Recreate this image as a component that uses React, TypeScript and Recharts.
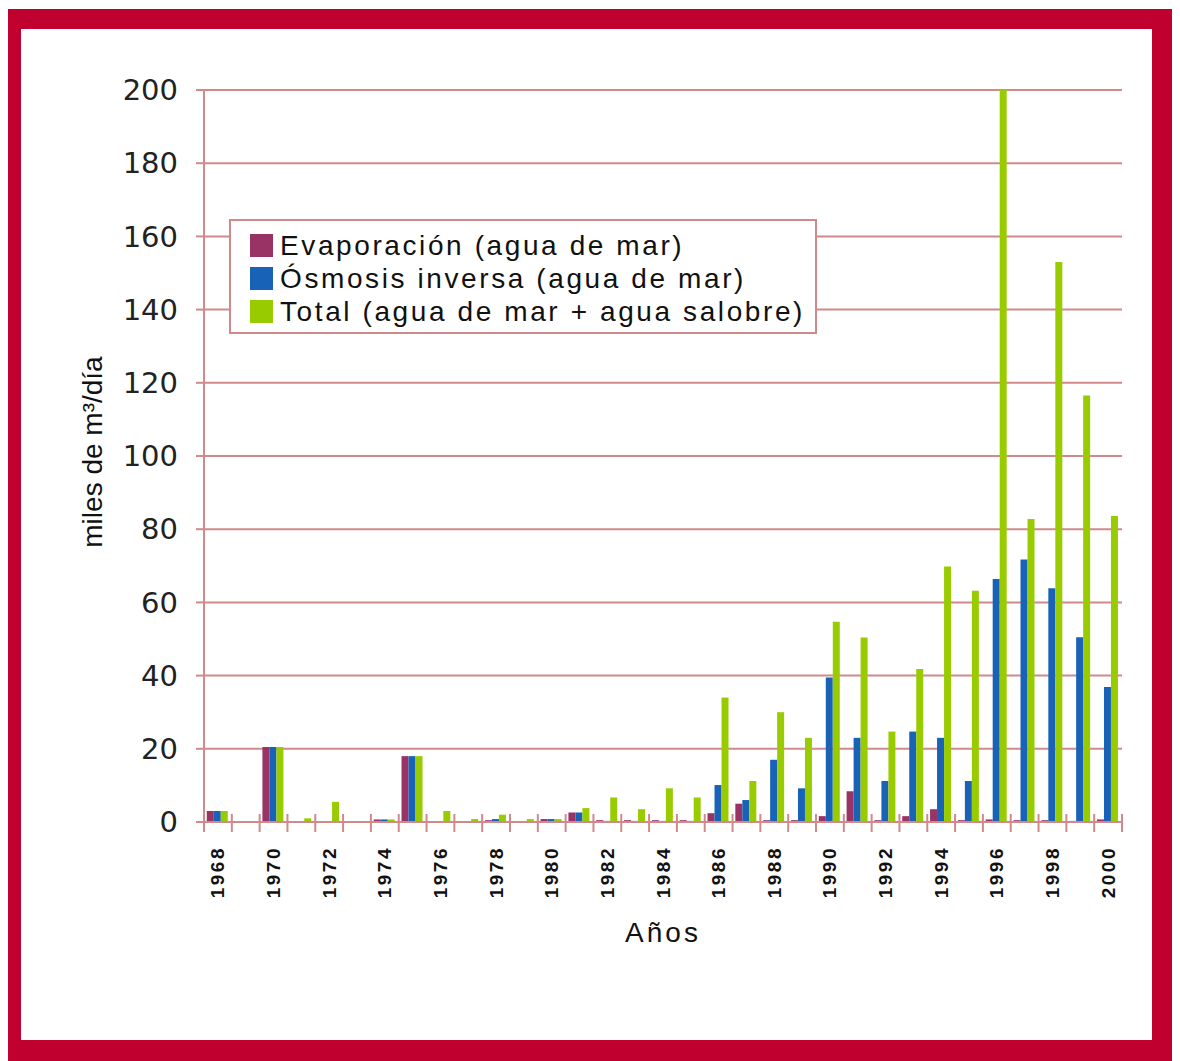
import { BarChart, Bar, XAxis, YAxis, CartesianGrid, Legend } from 'recharts';

const years = [
  '1968', '1969', '1970', '1971', '1972', '1973', '1974', '1975', '1976', '1977', '1978',
  '1979', '1980', '1981', '1982', '1983', '1984', '1985', '1986', '1987', '1988', '1989',
  '1990', '1991', '1992', '1993', '1994', '1995', '1996', '1997', '1998', '1999', '2000',
];

const evaporacion = [
  3, 0, 20.5, 0, 0, 0, 0.7, 18, 0, 0, 0.5,
  0, 0.8, 2.6, 0.5, 0.5, 0.5, 0.5, 2.4, 5, 0.5, 0.5,
  1.6, 8.4, 0.5, 1.6, 3.5, 0.5, 0.7, 0.5, 0.5, 0.3, 0.7,
];

const osmosis = [
  3, 0, 20.5, 0, 0, 0, 0.7, 18, 0, 0, 0.8,
  0, 0.8, 2.6, 0.3, 0.3, 0.3, 0.3, 10.1, 6, 17, 9.2,
  39.5, 23, 11.2, 24.7, 23, 11.2, 66.4, 71.7, 63.9, 50.5, 36.9,
];

const total = [
  3, 0, 20.5, 1, 5.5, 0, 0.7, 18, 3, 0.8, 2,
  0.8, 0.8, 3.8, 6.7, 3.5, 9.2, 6.7, 34, 11.2, 30, 23,
  54.7, 50.4, 24.7, 41.8, 69.8, 63.2, 200, 82.8, 153, 116.5, 83.6,
];

const yTicks = [0, 20, 40, 60, 80, 100, 120, 140, 160, 180, 200];

const series = [
  { key: 'evap', name: 'Evaporación (agua de mar)', color: '#993366' },
  { key: 'osmo', name: 'Ósmosis inversa (agua de mar)', color: '#1862B8' },
  { key: 'total', name: 'Total (agua de mar + agua salobre)', color: '#99CC00' },
];

const data = years.map((year, i) => ({
  year,
  evap: evaporacion[i],
  osmo: osmosis[i],
  total: total[i],
}));

const LINE = '#d08a8a';
const FONT = '"Liberation Sans", Arial, sans-serif';
const CHART_W = 1131;
const CHART_H = 1011;
const MARGIN = { top: 61, right: 30, left: 0, bottom: 98 };
const Y_W = 183;
const BAND = (CHART_W - MARGIN.left - MARGIN.right - Y_W) / years.length;

const XTick = (props: any) => {
  const { x, y, payload, index } = props;
  const half = BAND / 2;
  const ty = y + 24;
  return (
    <g>
      <line x1={x - half} x2={x - half} y1={y - 8} y2={y + 10} stroke={LINE} strokeWidth={2} />
      {index === years.length - 1 && (
        <line x1={x + half} x2={x + half} y1={y - 8} y2={y + 10} stroke={LINE} strokeWidth={2} />
      )}
      {Number(payload.value) % 2 === 0 && (
        <text
          x={x}
          y={ty}
          transform={`rotate(-90 ${x} ${ty})`}
          textAnchor="end"
          dominantBaseline="central"
          fontFamily={FONT}
          fontWeight="bold"
          fontSize={19}
          letterSpacing={2.5}
          fill="#111"
        >
          {payload.value}
        </text>
      )}
    </g>
  );
};

const renderLegend = () => (
  <div
    style={{
      border: `2px solid ${LINE}`,
      background: '#fff',
      width: 565,
      padding: '8px 0 4px 19px',
      fontFamily: FONT,
      fontSize: 28,
      letterSpacing: 2.6,
      color: '#111',
    }}
  >
    {series.map((s) => (
      <div key={s.key} style={{ display: 'flex', alignItems: 'center', height: 33 }}>
        <div style={{ width: 23, height: 23, background: s.color, marginRight: 7 }} />
        <span>{s.name}</span>
      </div>
    ))}
  </div>
);

export default function App() {
  return (
    <div style={{ position: 'relative', top: 1, width: 1168, height: 1053, background: '#C0002E' }}>
      <div style={{ position: 'absolute', left: 13, top: 20, width: CHART_W, height: CHART_H, background: '#fff' }}>
        <BarChart
          width={CHART_W}
          height={CHART_H}
          data={data}
          margin={MARGIN}
          barCategoryGap="10%"
          barGap={0}
        >
          <CartesianGrid vertical={false} stroke={LINE} strokeWidth={2} />
          <XAxis
            dataKey="year"
            interval={0}
            height={120}
            tickSize={0}
            tickMargin={0}
            tickLine={false}
            axisLine={{ stroke: LINE, strokeWidth: 2 }}
            tick={<XTick />}
            label={{
              value: 'Años',
              position: 'insideBottom',
              offset: 0,
              fontFamily: FONT,
              fontSize: 28,
              letterSpacing: 3,
              fill: '#111',
            }}
          />
          <YAxis
            width={Y_W}
            domain={[0, 200]}
            ticks={yTicks}
            tickSize={8}
            tickMargin={18}
            tickLine={{ stroke: LINE, strokeWidth: 2 }}
            axisLine={{ stroke: LINE, strokeWidth: 2 }}
            tick={{ fontFamily: '"DejaVu Sans", sans-serif', fontSize: 29, fill: '#222' }}
            label={{
              content: (p: any) => {
                const vb = p.viewBox;
                const cx = vb.x + 71;
                const cy = vb.y + vb.height / 2 - 4;
                return (
                  <text
                    x={cx}
                    y={cy}
                    transform={`rotate(-90 ${cx} ${cy})`}
                    textAnchor="middle"
                    dominantBaseline="central"
                    fontFamily={FONT}
                    fontSize={28}
                    fill="#111"
                  >
                    miles de m³/día
                  </text>
                );
              },
            }}
          />
          <YAxis
            yAxisId="right"
            orientation="right"
            width={0}
            domain={[0, 200]}
            tick={false}
            tickLine={false}
            axisLine={{ stroke: LINE, strokeWidth: 2 }}
          />
          <Legend
            layout="horizontal"
            verticalAlign="middle"
            align="center"
            content={renderLegend}
            wrapperStyle={{ left: 208, top: 190, width: 'auto' }}
          />
          {series.map((s) => (
            <Bar key={s.key} dataKey={s.key} name={s.name} fill={s.color} isAnimationActive={false} />
          ))}
        </BarChart>
      </div>
    </div>
  );
}
